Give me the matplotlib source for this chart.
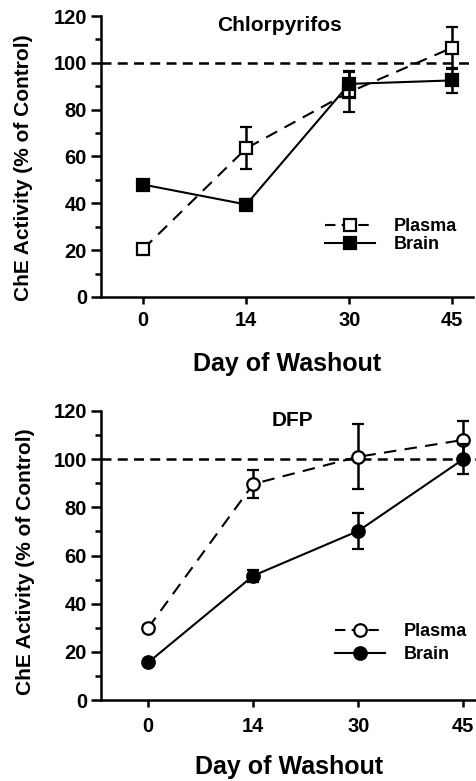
import matplotlib.pyplot as plt
from matplotlib.lines import Line2D
from matplotlib.ticker import MultipleLocator

# data
days = ['0', '14', '30', '45']

cpf_plasma = [20.5, 63.5, 87.5, 106.5]
cpf_plasma_err = [2, 9, 8.5, 9]
cpf_brain = [48, 39.5, 91, 92.5]
cpf_brain_err = [1.5, 2.5, 5.5, 5.5]

dfp_plasma = [30, 89.7, 101, 108]
dfp_plasma_err = [1, 6, 13.5, 8]
dfp_brain = [15.6, 51.6, 70.2, 100]
dfp_brain_err = [1, 2.5, 7.5, 6.3]

plt.rcParams['font.family'] = 'Liberation Sans'
plt.rcParams['font.weight'] = 'bold'

fig = plt.figure(figsize=(4.77, 7.81), dpi=100)
ax1 = fig.add_axes([101/477, 1-297/781, 372/477, 281/781])
ax2 = fig.add_axes([101/477, 1-700/781, 376/477, 289/781])


def panel(ax, title, plasma, plasma_err, brain, brain_err, marker, ms, xlim,
          title_x, leg_xy, leg_sp, xpad, xlabpad, ylab_xy):
    x = range(len(days))
    ax.axhline(100, color='black', lw=1.8, ls=(0, (4, 2.5)), zorder=1)
    ax.errorbar(x, plasma, yerr=plasma_err, color='black', lw=1.5, ls=(0, (6, 4)),
                marker=marker, ms=ms, mfc='white', mec='black', mew=1.6,
                capsize=4, capthick=1.8, elinewidth=1.8, zorder=3)
    ax.errorbar(x, brain, yerr=brain_err, color='black', lw=1.5, ls='-',
                marker=marker, ms=ms, mfc='black', mec='black', mew=1.6,
                capsize=4, capthick=1.8, elinewidth=1.8, zorder=4)
    ax.set_xlim(*xlim)
    ax.set_ylim(0, 120)
    ax.set_xticks(list(x))
    ax.set_xticklabels(days)
    ax.yaxis.set_major_locator(MultipleLocator(20))
    ax.yaxis.set_minor_locator(MultipleLocator(10))
    for s in ['top', 'right']:
        ax.spines[s].set_visible(False)
    for s in ['left', 'bottom']:
        ax.spines[s].set_linewidth(1.8)
    ax.tick_params(axis='both', which='major', labelsize=14.5, width=1.8, direction='out')
    ax.tick_params(axis='y', which='major', length=7, pad=3)
    ax.tick_params(axis='y', which='minor', width=1.8, length=4)
    ax.tick_params(axis='x', length=5, pad=xpad)
    ax.set_ylabel('ChE Activity (% of Control)', fontsize=15, fontweight='bold')
    ax.yaxis.set_label_coords(*ylab_xy)
    ax.set_xlabel('Day of Washout', fontsize=18, fontweight='bold', labelpad=xlabpad)
    ax.text(title_x, 1.0, title, transform=ax.transAxes, ha='center', va='top',
            fontsize=15, fontweight='bold')
    handles = [
        Line2D([], [], color='black', lw=1.5, ls=(0, (5, 3)), marker=marker, ms=ms,
               mfc='white', mec='black', mew=1.6),
        Line2D([], [], color='black', lw=1.5, ls='-', marker=marker, ms=ms,
               mfc='black', mec='black', mew=1.6),
    ]
    leg = ax.legend(handles, ['Plasma', 'Brain'], loc='upper left', bbox_to_anchor=leg_xy,
                    frameon=False, fontsize=13, handlelength=2.8, handletextpad=1.0,
                    labelspacing=leg_sp, borderpad=0, borderaxespad=0)
    for t in leg.get_texts():
        t.set_fontweight('bold')


panel(ax1, 'Chlorpyrifos', cpf_plasma, cpf_plasma_err, cpf_brain, cpf_brain_err,
      's', 8.5, (-0.41, 3.2), 0.48, (0.602, 0.28), 0.05, 5, 16, (-0.183, 0.46))
panel(ax2, 'DFP', dfp_plasma, dfp_plasma_err, dfp_brain, dfp_brain_err,
      'o', 9, (-0.45, 3.13), 0.508, (0.622, 0.265), 0.3, 7, 14, (-0.176, 0.48))

fig.savefig('out.png', dpi=100)
